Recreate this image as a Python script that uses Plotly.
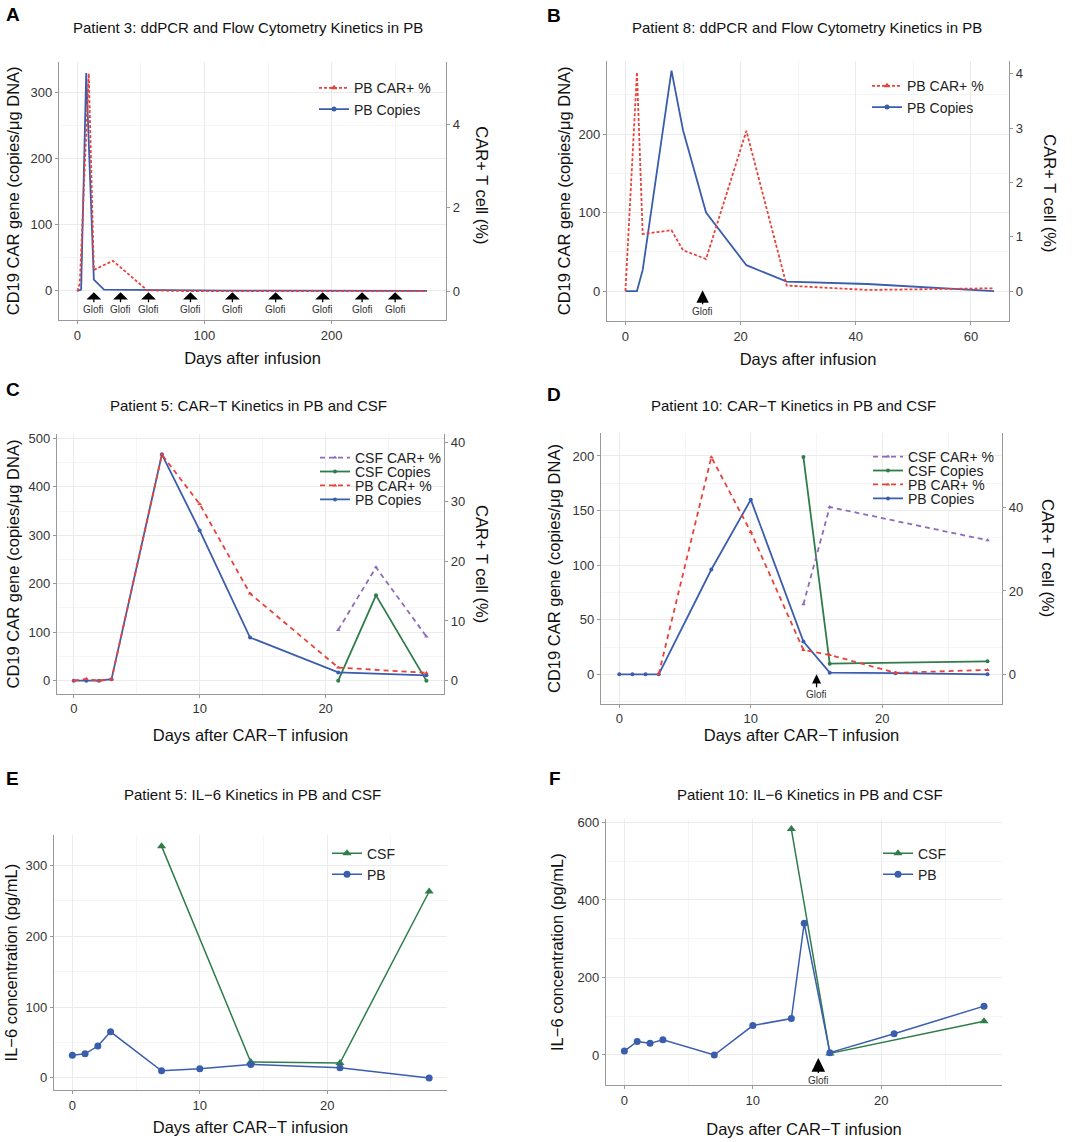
import plotly.graph_objects as go

W, H = 1080, 1142

# ---------------- data ----------------
# Panel A - Patient 3 (PB)
A_copies_days = [0, 3, 7, 13, 21, 56, 90, 120, 160, 190, 220, 250, 275]
A_copies_vals = [0, 2, 330, 17, 2, 1, 0.5, 0.3, 0.3, 0.2, 0.2, 0.1, 0]
A_car_days = [0, 2, 9, 13, 28, 55, 90, 120, 160, 190, 220, 250, 275]
A_car_vals = [0, 0.19, 5.23, 0.51, 0.73, 0.02, 0, 0, 0, 0, 0, 0, 0]
A_glofi_days = [13, 34, 56, 89, 122, 156, 193, 224, 250]

# Panel B - Patient 8 (PB)
B_copies_days = [0, 2, 3, 8, 10, 14, 21, 28, 42, 64]
B_copies_vals = [0, 0, 27, 281, 205, 100, 33, 12, 9, 0]
B_car_days = [0, 2, 3, 8, 10, 14, 21, 28, 42, 64]
B_car_vals = [0, 4.03, 1.05, 1.12, 0.75, 0.59, 2.95, 0.1, 0.02, 0.05]
B_glofi_days = [13.4]

# Panel C - Patient 5 (PB & CSF)
C_pb_copies_days = [0, 1, 2, 3, 7, 10, 14, 21, 28]
C_pb_copies_vals = [0, 0, 0, 3, 467, 310, 89, 17, 11]
C_pb_car_days = [0, 1, 2, 3, 7, 10, 14, 21, 28]
C_pb_car_vals = [0, 0.3, 0, 0.2, 37.9, 29.6, 14.6, 2.2, 1.3]
C_csf_car_days = [21, 24, 28]
C_csf_car_vals = [8.5, 19.0, 7.4]
C_csf_copies_days = [21, 24, 28]
C_csf_copies_vals = [0, 176, 0]

# Panel D - Patient 10 (PB & CSF)
D_pb_copies_days = [0, 1, 2, 3, 7, 10, 14, 16, 21, 28]
D_pb_copies_vals = [0, 0, 0, 0, 96, 160, 30, 1.5, 1, 0]
D_pb_car_days = [3, 7, 10, 14, 16, 21, 28]
D_pb_car_vals = [0, 52.2, 34.2, 5.8, 4.6, 0.3, 1.0]
D_csf_car_days = [14, 16, 28]
D_csf_car_vals = [16.8, 40.2, 32.2]
D_csf_copies_days = [14, 16, 28]
D_csf_copies_vals = [199, 9.7, 11.9]
D_glofi_days = [15]

# Panel E - Patient 5 IL-6
E_pb_days = [0, 1, 2, 3, 7, 10, 14, 21, 28]
E_pb_vals = [32, 34, 45, 65, 10, 13, 19, 14.5, 0]
E_csf_days = [7, 14, 21, 28]
E_csf_vals = [327, 22.5, 21, 263]

# Panel F - Patient 10 IL-6
F_pb_days = [0, 1, 2, 3, 7, 10, 13, 14, 16, 21, 28]
F_pb_vals = [10, 35, 30, 39.5, 0, 76, 94, 340, 6, 55, 126]
F_csf_days = [13, 16, 28]
F_csf_vals = [583, 4, 87]
F_glofi_days = [15.1]

# ---------------- styling ----------------
BLUE = "#3a5dae"
RED = "#e8423b"
GREEN = "#2e7d4a"
PURPLE = "#8e6bbb"
GRID = "#ebebeb"
MINOR = "#f5f5f5"
AXC = "#999999"
FONT = "Liberation Sans, Arial, sans-serif"


def px_x(x0, x1):
    return [x0 / W, x1 / W]


def px_y(y0, y1):
    return [1 - y1 / H, 1 - y0 / H]


fig = go.Figure()


def add_line(x, y, name, color, dash, symbol, msize, xa, ya, legend, width=1.8, plot_markers=True):
    if plot_markers:
        fig.add_trace(go.Scatter(
            x=x, y=y, name=name, mode="lines+markers",
            line=dict(color=color, width=width, dash=dash),
            marker=dict(color=color, size=msize, symbol=symbol),
            xaxis=xa, yaxis=ya, legend=legend, showlegend=True,
        ))
    else:
        # lines only in the plot; legend entry shows line + marker like the original
        grp = legend + name
        fig.add_trace(go.Scatter(
            x=x, y=y, name=name, mode="lines",
            line=dict(color=color, width=width, dash=dash),
            xaxis=xa, yaxis=ya, legend=legend, legendgroup=grp, showlegend=False,
        ))
        fig.add_trace(go.Scatter(
            x=[None], y=[None], name=name, mode="lines+markers",
            line=dict(color=color, width=width, dash=dash),
            marker=dict(color=color, size=msize, symbol=symbol),
            xaxis=xa, yaxis=ya, legend=legend, legendgroup=grp, showlegend=True,
        ))


# Panel A
add_line(A_car_days, A_car_vals, "PB CAR+ %", RED, "3px,2px", "triangle-up", 6, "x", "y7", "legend", plot_markers=False)
add_line(A_copies_days, A_copies_vals, "PB Copies", BLUE, "solid", "circle", 5, "x", "y", "legend", plot_markers=False)
# Panel B
add_line(B_car_days, B_car_vals, "PB CAR+ %", RED, "3px,2px", "triangle-up", 6, "x2", "y8", "legend2", plot_markers=False)
add_line(B_copies_days, B_copies_vals, "PB Copies", BLUE, "solid", "circle", 5, "x2", "y2", "legend2", plot_markers=False)
# Panel C (one single-entry legend per series for tight row spacing)
add_line(C_csf_car_days, C_csf_car_vals, "CSF CAR+ %", PURPLE, "5px,4px", "triangle-up", 4, "x3", "y9", "legend3")
add_line(C_csf_copies_days, C_csf_copies_vals, "CSF Copies", GREEN, "solid", "circle", 4, "x3", "y3", "legend7")
add_line(C_pb_car_days, C_pb_car_vals, "PB CAR+ %", RED, "5px,4px", "triangle-up", 4, "x3", "y9", "legend8")
add_line(C_pb_copies_days, C_pb_copies_vals, "PB Copies", BLUE, "solid", "circle", 4, "x3", "y3", "legend9")
# Panel D
add_line(D_csf_car_days, D_csf_car_vals, "CSF CAR+ %", PURPLE, "5px,4px", "triangle-up", 4, "x4", "y10", "legend4")
add_line(D_csf_copies_days, D_csf_copies_vals, "CSF Copies", GREEN, "solid", "circle", 4, "x4", "y4", "legend10")
add_line(D_pb_car_days, D_pb_car_vals, "PB CAR+ %", RED, "5px,4px", "triangle-up", 4, "x4", "y10", "legend11")
add_line(D_pb_copies_days, D_pb_copies_vals, "PB Copies", BLUE, "solid", "circle", 4, "x4", "y4", "legend12")
# Panel E
add_line(E_csf_days, E_csf_vals, "CSF", GREEN, "solid", "triangle-up", 8, "x5", "y5", "legend5", 1.5)
add_line(E_pb_days, E_pb_vals, "PB", BLUE, "solid", "circle", 7, "x5", "y5", "legend5", 1.5)
# Panel F
add_line(F_csf_days, F_csf_vals, "CSF", GREEN, "solid", "triangle-up", 8, "x6", "y6", "legend6", 1.5)
add_line(F_pb_days, F_pb_vals, "PB", BLUE, "solid", "circle", 7, "x6", "y6", "legend6", 1.5)

tickfont = dict(family=FONT, size=13, color="#333333")
titlefont = dict(family=FONT, size=16.5, color="#111111")


def xaxis(dom, rng, dtick, title, standoff, anchor):
    return dict(domain=dom, range=rng, dtick=dtick, tick0=0, anchor=anchor,
                showgrid=True, gridcolor=GRID, gridwidth=1,
                minor=dict(dtick=dtick / 2, showgrid=True, gridcolor=MINOR, gridwidth=1),
                showline=True, linecolor=AXC, linewidth=1.3, zeroline=False,
                ticks="outside", ticklen=3, tickcolor=AXC, tickfont=tickfont,
                title=dict(text=title, font=titlefont, standoff=standoff))


def yaxis(dom, rng, dtick, title, standoff, anchor):
    return dict(domain=dom, range=rng, dtick=dtick, tick0=0, anchor=anchor,
                showgrid=True, gridcolor=GRID, gridwidth=1,
                minor=dict(dtick=dtick / 2, showgrid=True, gridcolor=MINOR, gridwidth=1),
                showline=True, linecolor=AXC, linewidth=1.3, zeroline=False,
                ticks="outside", ticklen=3, tickcolor=AXC, tickfont=tickfont,
                title=dict(text=title, font=titlefont, standoff=standoff))


def yaxis_right(over, rng, dtick, anchor):
    return dict(overlaying=over, side="right", anchor=anchor, range=rng, dtick=dtick, tick0=0,
                showgrid=False, zeroline=False, showline=True, linecolor=AXC, linewidth=1.3,
                ticks="outside", ticklen=3, tickcolor=AXC, tickfont=tickfont)


YT = "CD19 CAR gene (copies/\u03bcg DNA)"
IL6 = "IL\u22126 concentration (pg/mL)"
XT1 = "Days after infusion"
XT2 = "Days after CAR\u2212T infusion"

layout = dict(
    width=W, height=H, margin=dict(l=0, r=0, t=0, b=0),
    paper_bgcolor="white", plot_bgcolor="white",
    font=dict(family=FONT, color="#111111"),
    xaxis=xaxis(px_x(59, 446), [-14.4, 290], 100, XT1, 10, "y"),
    yaxis=yaxis(px_y(58, 317), [-44, 347], 100, YT, 6, "x"),
    xaxis2=xaxis(px_x(607, 1009), [-3.2, 66.6], 20, XT1, 10, "y2"),
    yaxis2=yaxis(px_y(57, 318), [-38, 293.5], 100, YT, 3, "x2"),
    xaxis3=xaxis(px_x(57, 444), [-1.33, 29.4], 10, XT2, 14, "y3"),
    yaxis3=yaxis(px_y(432, 692), [-26.7, 508], 100, YT, 4, "x3"),
    xaxis4=xaxis(px_x(601, 1002), [-1.39, 29.1], 10, XT2, 4, "y4"),
    yaxis4=yaxis(px_y(431, 702), [-26.8, 220.6], 50, YT, 7, "x4"),
    xaxis5=xaxis(px_x(54, 447), [-1.44, 29.4], 10, XT2, 9, "y5"),
    yaxis5=yaxis(px_y(834, 1090), [-17.3, 342.6], 100, IL6, 3, "x5"),
    xaxis6=xaxis(px_x(606, 1002), [-1.43, 29.4], 10, XT2, 16, "y6"),
    yaxis6=yaxis(px_y(818, 1085), [-78, 608.7], 200, IL6, 9, "x6"),
    yaxis7=yaxis_right("y", [-0.69, 5.51], 2, "x"),
    yaxis8=yaxis_right("y2", [-0.55, 4.24], 1, "x2"),
    yaxis9=yaxis_right("y3", [-2.17, 41.27], 10, "x3"),
    yaxis10=yaxis_right("y4", [-7.1, 57.9], 20, "x4"),
)


def legend(xpx, row_center_px):
    top = row_center_px - 18.5
    return dict(x=xpx / W, y=1 - top / H, xanchor="left", yanchor="top",
                bgcolor="rgba(0,0,0,0)", font=dict(family=FONT, size=14, color="#222222"),
                tracegroupgap=0, itemwidth=30, traceorder="normal")


layout["legend"] = legend(314, 87)
layout["legend2"] = legend(867, 85)
# C: four single-row legends
layout["legend3"] = legend(315, 458)
layout["legend7"] = legend(315, 472)
layout["legend8"] = legend(315, 486)
layout["legend9"] = legend(315, 500)
# D: four single-row legends
layout["legend4"] = legend(868, 457)
layout["legend10"] = legend(868, 471)
layout["legend11"] = legend(868, 485)
layout["legend12"] = legend(868, 499)
layout["legend5"] = legend(327, 855)
layout["legend6"] = legend(878, 855)

fig.update_layout(**layout)

annotations = []


def ann_px(text, xpx, ypx, size, angle=0, bold=False, color="#111111"):
    annotations.append(dict(
        text=("<b>%s</b>" % text) if bold else text, x=xpx / W, y=1 - ypx / H,
        xref="paper", yref="paper", showarrow=False, textangle=angle,
        xanchor="center", yanchor="middle", font=dict(family=FONT, size=size, color=color)))


# panel titles
ann_px("Patient 3: ddPCR and Flow Cytometry Kinetics in PB", 248, 24, 15)
ann_px("Patient 8: ddPCR and Flow Cytometry Kinetics in PB", 807, 24, 15)
ann_px("Patient 5: CAR\u2212T Kinetics in PB and CSF", 248, 403, 15)
ann_px("Patient 10: CAR\u2212T Kinetics in PB and CSF", 793, 403, 15)
ann_px("Patient 5: IL\u22126 Kinetics in PB and CSF", 252, 793, 15)
ann_px("Patient 10: IL\u22126 Kinetics in PB and CSF", 810, 793, 15)

# panel letters
for letter, lx, ly in [("A", 13, 11), ("B", 554, 12), ("C", 13, 387),
                       ("D", 554, 392), ("E", 12, 777), ("F", 555, 777)]:
    ann_px(letter, lx, ly, 19, bold=True, color="#000000")

# right axis titles (rotated clockwise like ggplot)
RT = "CAR+ T cell (%)"
ann_px(RT, 482, 182, 16.5, angle=90)
ann_px(RT, 1050, 190, 16.5, angle=90)
ann_px(RT, 482, 562, 16.5, angle=90)
ann_px(RT, 1048, 556, 16.5, angle=90)


def glofi(days, xa, ya, ytip, ay, head, asize):
    for d in days:
        annotations.append(dict(
            text="Glofi", x=d, y=ytip, xref=xa, yref=ya, showarrow=True,
            ax=0, ay=ay, arrowhead=head, arrowsize=asize, arrowwidth=1.3, arrowcolor="#000000",
            font=dict(family=FONT, size=10, color="#333333"), standoff=0, startstandoff=0))


glofi(A_glofi_days, "x", "y", -2, 17, 1, 1.9)
glofi(B_glofi_days, "x2", "y2", 1, 21, 2, 1.9)
glofi(D_glofi_days, "x4", "y4", 0, 20, 2, 1.4)
glofi(F_glofi_days, "x6", "y6", -8, 22, 2, 2.1)

fig.update_layout(annotations=annotations)

fig.write_html("out.html")
